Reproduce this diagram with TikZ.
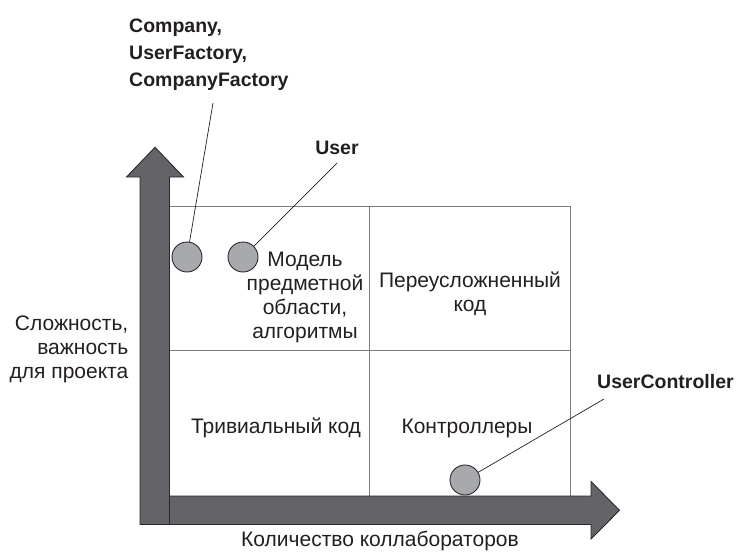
\documentclass[tikz,border=0pt]{standalone}
\usepackage{fontspec}
\setmainfont{Liberation Sans}
\newfontfamily\boldlbl{Liberation Sans Bold}
\usetikzlibrary{calc}
\definecolor{arrowfill}{RGB}{100,100,104}
\definecolor{arrowline}{RGB}{40,40,42}
\definecolor{dotfill}{RGB}{168,169,173}
\definecolor{gridline}{RGB}{125,125,125}
\definecolor{ink}{RGB}{35,31,32}
\tikzset{
  axisarrow/.style={fill=arrowfill, draw=arrowline, line width=0.9pt, line join=miter},
  gridl/.style={draw=gridline, line width=0.8pt},
  dot/.style={circle, minimum size=30pt, inner sep=0pt, fill=dotfill, draw=arrowline, line width=0.9pt},
  txt/.style={text=ink, font=\fontsize{21}{23.8}\selectfont, inner sep=0pt},
  lbl/.style={text=ink, font=\boldlbl\fontsize{19.5}{27}\selectfont, inner sep=0pt},
  leader/.style={draw=ink, line width=0.7pt}
}
\begin{document}
\begin{tikzpicture}[x=1pt,y=-1pt]
\useasboundingbox (0,0) rectangle (736,552);
% grid
\draw[gridl] (170,206) -- (570,206) -- (570,496);
\draw[gridl] (170,350) -- (570,350);
\draw[gridl] (369.5,206) -- (369.5,496);
% horizontal axis
\draw[axisarrow] (169.5,496) -- (591,496) -- (591,481.5) -- (619.5,510.3) -- (591,539) -- (591,524.5) -- (169.5,524.5) -- cycle;
% vertical axis
\draw[axisarrow] (140,524.5) -- (140,177) -- (126.5,177) -- (155,147.3) -- (183.5,177) -- (169.5,177) -- (169.5,524.5) -- cycle;
% cell texts (anchor=base is the baseline of the last line)
\node[txt, align=center, anchor=base] (model) at (305,338) {Модель\\предметной\\области,\\алгоритмы};
\node[txt, align=center, anchor=base] (over) at (470,311.5) {Переусложненный\\код};
\node[txt, anchor=base] (triv) at (276,433) {Тривиальный код};
\node[txt, anchor=base] (ctrl) at (467,433) {Контроллеры};
% axis labels
\node[txt, align=right, anchor=base east] (ylab) at (128.5,378) {Сложность,\\важность\\для проекта};
\node[txt, anchor=base] (xlab) at (380,546) {Количество коллабораторов};
% dots
\node[dot] (c1) at (187,257) {};
\node[dot] (c2) at (243,257) {};
\node[dot] (c3) at (465,480) {};
% labels
\node[lbl, align=left, anchor=base west] (lcomp) at (129,86) {Company,\\UserFactory,\\CompanyFactory};
\node[lbl, anchor=base] (luser) at (337,154) {User};
\node[lbl, anchor=base west] (lctrl) at (597,388) {UserController};
\coordinate (e1) at (213,103);
\coordinate (e2) at (337,163);
\coordinate (e3) at (604,399);
\draw[leader] (c1) -- (e1);
\draw[leader] (c2) -- (e2);
\draw[leader] (c3) -- (e3);
\end{tikzpicture}
\end{document}
